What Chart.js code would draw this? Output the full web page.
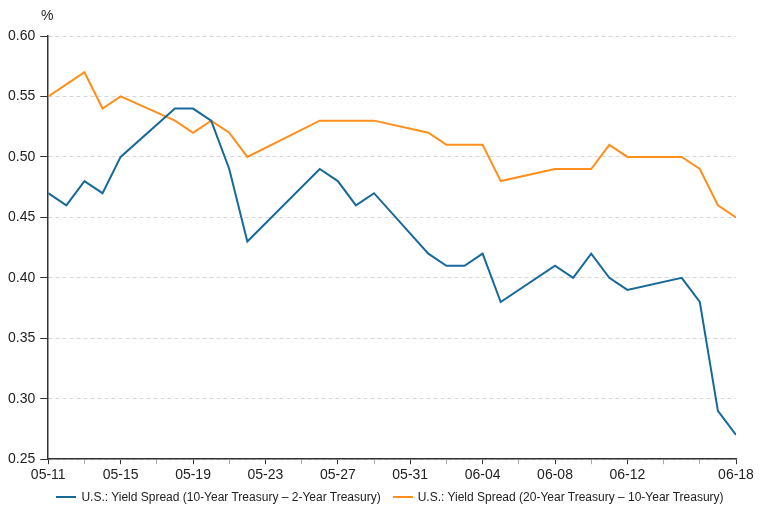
<!DOCTYPE html>
<html>
<head>
<meta charset="utf-8">
<script src="https://cdn.jsdelivr.net/npm/chart.js@4.4.1/dist/chart.umd.min.js"></script>
<style>
  html, body { margin: 0; padding: 0; background: #fff; }
  #wrap { width: 771px; height: 509px; position: relative; }
  #legend {
    position: absolute; left: 46px; width: 688px; top: 488px; height: 18px;
    display: flex; justify-content: center; align-items: center;
    font: 12px 'Liberation Sans', Arial, Helvetica, sans-serif; color: #222;
  }
  .legend-item { display: flex; align-items: center; margin: 0 6px; white-space: nowrap; }
  .legend-mark { display: inline-block; width: 20px; height: 2px; margin-right: 5px; }
</style>
</head>
<body>
<div id="wrap">
  <canvas id="spreadChart"></canvas>
  <div id="legend"></div>
</div>
<script>
const year = 2020;
const dates = ['05-11', '05-12', '05-13', '05-14', '05-15', '05-18', '05-19', '05-20', '05-21', '05-22',
               '05-26', '05-27', '05-28', '05-29', '06-01', '06-02', '06-03', '06-04', '06-05',
               '06-08', '06-09', '06-10', '06-11', '06-12', '06-15', '06-16', '06-17', '06-18'];
const spread10y2y = [0.47, 0.46, 0.48, 0.47, 0.50, 0.54, 0.54, 0.53, 0.49, 0.43,
                     0.49, 0.48, 0.46, 0.47, 0.42, 0.41, 0.41, 0.42, 0.38,
                     0.41, 0.40, 0.42, 0.40, 0.39, 0.40, 0.38, 0.29, 0.27];
const spread20y10y = [0.55, 0.56, 0.57, 0.54, 0.55, 0.53, 0.52, 0.53, 0.52, 0.50,
                      0.53, 0.53, 0.53, 0.53, 0.52, 0.51, 0.51, 0.51, 0.48,
                      0.49, 0.49, 0.49, 0.51, 0.50, 0.50, 0.49, 0.46, 0.45];
const tickLabels = ['05-11', '05-15', '05-19', '05-23', '05-27', '05-31', '06-04', '06-08', '06-12', '06-18'];
const seriesNames = ['U.S.: Yield Spread (10-Year Treasury \u2013 2-Year Treasury)',
                     'U.S.: Yield Spread (20-Year Treasury \u2013 10-Year Treasury)'];

const DAY = 86400000;
const start = Date.UTC(year, 4, 11);

function dayIndex(md) {
    const [m, d] = md.split('-').map(Number);
    return Math.round((Date.UTC(year, m - 1, d) - start) / DAY);
}

function dayLabel(i) {
    const dt = new Date(start + i * DAY);
    const m = String(dt.getUTCMonth() + 1).padStart(2, '0');
    const d = String(dt.getUTCDate()).padStart(2, '0');
    return m + '-' + d;
}

const lastDay = dayIndex(dates[dates.length - 1]);
const font = "'Liberation Sans', Arial, Helvetica, sans-serif";

// the "%" unit sits above the y axis
const percentLabel = {
    id: 'percentLabel',
    afterDraw(chart) {
        const { ctx, chartArea } = chart;
        ctx.save();
        ctx.font = '14px ' + font;
        ctx.fillStyle = '#222';
        ctx.textAlign = 'center';
        ctx.textBaseline = 'middle';
        ctx.fillText('%', chartArea.left - 1, 16);
        ctx.restore();
    }
};

const chart = new Chart(document.getElementById('spreadChart'), {
    type: 'line',
    data: {
        datasets: [{
            label: seriesNames[0],
            data: dates.map((d, i) => ({ x: dayIndex(d), y: spread10y2y[i] })),
            borderColor: '#17699a',
            backgroundColor: '#17699a',
            borderWidth: 2,
            pointRadius: 0,
            tension: 0
        }, {
            label: seriesNames[1],
            data: dates.map((d, i) => ({ x: dayIndex(d), y: spread20y10y[i] })),
            borderColor: '#ff8e1c',
            backgroundColor: '#ff8e1c',
            borderWidth: 2,
            pointRadius: 0,
            tension: 0
        }]
    },
    options: {
        responsive: true,
        maintainAspectRatio: false,
        animation: false,
        layout: { padding: { top: 36, left: 3, right: 35, bottom: 22 } },
        plugins: {
            legend: { display: false },
            tooltip: { enabled: false }
        },
        scales: {
            x: {
                type: 'linear',
                min: 0,
                max: lastDay,
                afterBuildTicks(scale) {
                    const ticks = [];
                    for (let i = 0; i <= lastDay; i += 2) ticks.push({ value: i });
                    scale.ticks = ticks;
                },
                ticks: {
                    autoSkip: false,
                    maxRotation: 0,
                    padding: 3,
                    color: '#222',
                    font: { family: font, size: 14 },
                    callback: v => tickLabels.includes(dayLabel(v)) ? dayLabel(v) : ''
                },
                grid: {
                    drawOnChartArea: false,
                    tickLength: 5,
                    tickColor: ctx => tickLabels.includes(dayLabel(ctx.tick.value)) ? '#333' : '#aaa'
                },
                border: { color: '#333', width: 1.5 }
            },
            y: {
                min: 0.25,
                max: 0.60,
                ticks: {
                    stepSize: 0.05,
                    padding: 5,
                    color: '#222',
                    font: { family: font, size: 14 },
                    callback: v => v.toFixed(2)
                },
                grid: {
                    color: '#d6d6d6',
                    tickLength: 8,
                    tickColor: '#333',
                    tickBorderDash: []
                },
                border: { color: '#333', width: 1.5, dash: [4, 3] }
            }
        }
    },
    plugins: [percentLabel]
});

// html legend under the plot
const legendEl = document.getElementById('legend');
chart.data.datasets.forEach(ds => {
    const item = document.createElement('span');
    item.className = 'legend-item';
    item.innerHTML = `<span class="legend-mark" style="background:${ds.borderColor}"></span>${ds.label}`;
    legendEl.appendChild(item);
});
</script>
</body>
</html>
